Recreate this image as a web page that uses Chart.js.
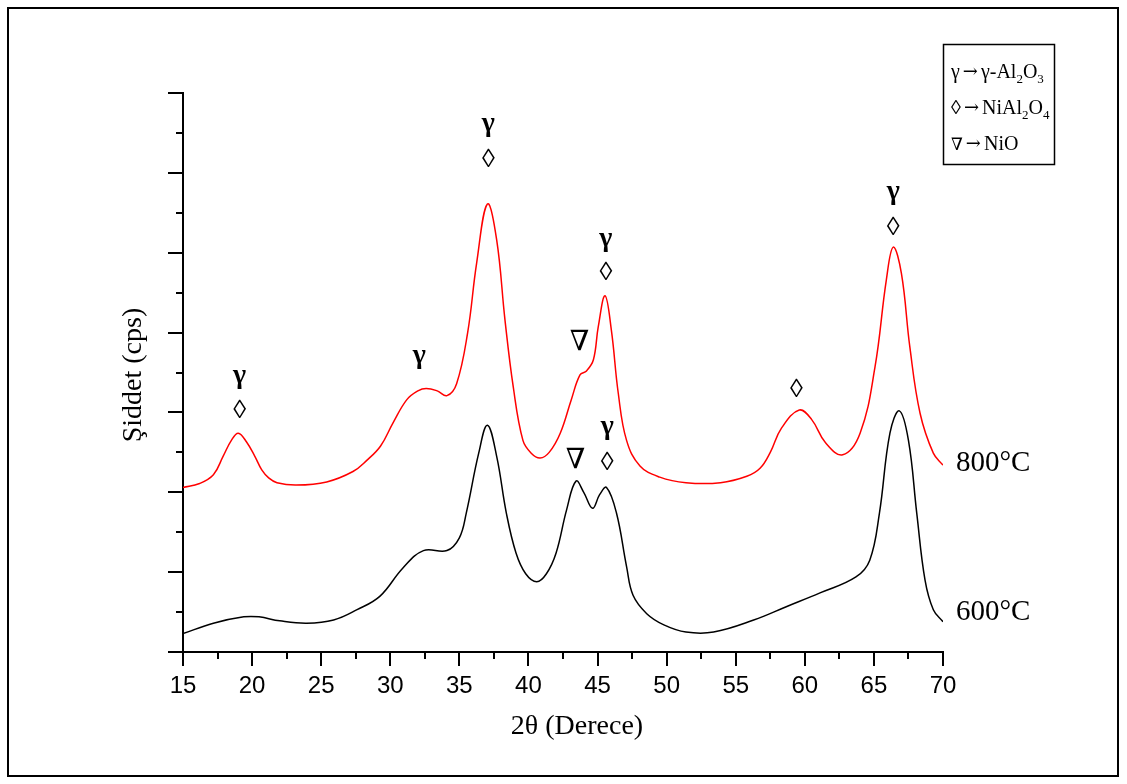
<!DOCTYPE html>
<html>
<head>
<meta charset="utf-8">
<script src="https://cdn.jsdelivr.net/npm/chart.js@4.4.1/dist/chart.umd.min.js"></script>
<style>
  html, body { margin: 0; padding: 0; background: #fff; }
  #wrap { width: 1127px; height: 784px; position: relative; }
</style>
</head>
<body>
<div id="wrap"><canvas id="xrd"></canvas></div>
<script>
// 800°C (kırmızı) eğrisi
const redX = [15.0, 16.2, 17.2, 17.9, 18.5, 19.0, 19.6, 20.2, 20.7, 21.2, 21.8, 23.2, 25.4, 27.3, 28.3, 29.3, 30.2, 31.2, 32.0, 32.6, 33.4, 34.1, 34.8, 35.6, 36.25, 37.03, 37.7, 38.3, 38.9, 39.6, 40.2, 40.84, 41.5, 42.3, 43.1, 43.73, 44.2, 44.7, 45.05, 45.54, 46.0, 46.5, 47.1, 48.07, 49.5, 51.4, 53.9, 55.8, 56.76, 57.5, 58.3, 59.6, 60.5, 61.5, 62.74, 64.0, 65.08, 65.9, 66.4, 66.99, 67.6, 68.34, 69.3, 70.0];
const redY = [2.06, 2.11, 2.22, 2.45, 2.65, 2.74, 2.63, 2.45, 2.28, 2.18, 2.12, 2.09, 2.13, 2.26, 2.40, 2.58, 2.87, 3.16, 3.27, 3.30, 3.27, 3.21, 3.36, 4.00, 4.87, 5.61, 5.16, 4.16, 3.32, 2.65, 2.49, 2.43, 2.50, 2.74, 3.16, 3.47, 3.52, 3.66, 4.07, 4.46, 4.03, 3.24, 2.65, 2.33, 2.19, 2.12, 2.12, 2.20, 2.30, 2.50, 2.80, 3.03, 2.91, 2.62, 2.47, 2.74, 3.57, 4.66, 5.07, 4.74, 3.82, 2.99, 2.49, 2.34];

// 600°C (siyah) eğrisi
const blackX = [15.0, 17.2, 19.4, 20.5, 22.0, 23.95, 25.9, 27.6, 29.26, 30.9, 32.4, 34.1, 35.0, 35.5, 36.4, 37.03, 37.7, 38.4, 39.1, 39.8, 40.6, 41.3, 42.0, 42.76, 43.44, 44.0, 44.64, 45.15, 45.65, 46.37, 47.1, 47.57, 48.56, 49.8, 51.4, 53.4, 56.3, 58.7, 61.1, 63.7, 64.7, 65.4, 66.16, 66.84, 67.5, 68.1, 68.7, 69.3, 70.0];
const blackY = [0.23, 0.36, 0.44, 0.44, 0.39, 0.36, 0.40, 0.53, 0.70, 1.05, 1.27, 1.27, 1.43, 1.74, 2.49, 2.84, 2.45, 1.74, 1.24, 0.98, 0.88, 0.98, 1.24, 1.78, 2.14, 2.00, 1.80, 1.97, 2.06, 1.74, 1.07, 0.71, 0.48, 0.34, 0.25, 0.25, 0.40, 0.57, 0.74, 0.94, 1.15, 1.74, 2.74, 3.02, 2.65, 1.74, 0.90, 0.53, 0.38];

// pik işaretleri
const annoText = ['γ', '◊', 'γ', 'γ', '◊', '∇', 'γ', '◊', '∇', 'γ', '◊', '◊', 'γ', '◊'];
const annoX = [19.1, 19.1, 32.1, 37.1, 37.1, 43.7, 45.6, 45.6, 43.4, 45.7, 45.7, 59.4, 66.4, 66.4];
const annoY = [3.46, 3.02, 3.71, 6.61, 6.16, 3.87, 5.17, 4.75, 2.39, 2.82, 2.37, 3.28, 5.76, 5.31];

const xTicks = [15, 20, 25, 30, 35, 40, 45, 50, 55, 60, 65, 70];

const SERIF = '"Liberation Serif", "Times New Roman", serif';
const SANS = '"Liberation Sans", Arial, sans-serif';

function toPoints(xs, ys) {
    return xs.map((x, i) => ({ x: x, y: ys[i] }));
}

const decorPlugin = {
    id: 'decor',
    afterDraw(chart) {
        const ctx = chart.ctx;
        const xs = chart.scales.x;
        const ys = chart.scales.y;
        const area = chart.chartArea;
        ctx.save();
        ctx.strokeStyle = '#000';
        ctx.fillStyle = '#000';

        // eksen çentikleri (büyük + küçük)
        ctx.lineWidth = 2;
        for (let v = 15; v <= 70; v += 2.5) {
            const px = Math.round(xs.getPixelForValue(v));
            const len = (v % 5 === 0) ? 14 : 7;
            ctx.beginPath();
            ctx.moveTo(px, area.bottom);
            ctx.lineTo(px, area.bottom + len);
            ctx.stroke();
        }
        for (let v = 0; v <= 7; v += 0.5) {
            const py = Math.round(ys.getPixelForValue(v));
            const len = (v % 1 === 0) ? 15 : 7;
            ctx.beginPath();
            ctx.moveTo(area.left, py);
            ctx.lineTo(area.left - len, py);
            ctx.stroke();
        }

        // pik sembolleri
        ctx.textAlign = 'center';
        ctx.textBaseline = 'middle';
        annoText.forEach((t, i) => {
            const px = xs.getPixelForValue(annoX[i]);
            const py = ys.getPixelForValue(annoY[i]);
            if (t === '◊') ctx.font = '26px ' + SERIF;
            else if (t === '∇') ctx.font = '28px "DejaVu Serif", serif';
            else ctx.font = 'bold 28px ' + SERIF;
            ctx.fillText(t, px, py);
        });

        // sıcaklık etiketleri
        ctx.textAlign = 'left';
        ctx.font = '29px ' + SERIF;
        ctx.fillText('800°C', 956, 463);
        ctx.fillText('600°C', 956, 612);

        // eksen başlıkları
        ctx.textAlign = 'center';
        ctx.font = '28px ' + SERIF;
        ctx.fillText('2θ (Derece)', 577, 727);
        ctx.save();
        ctx.translate(134, 375);
        ctx.rotate(-Math.PI / 2);
        ctx.fillText('Şiddet (cps)', 0, 0);
        ctx.restore();

        // lejant kutusu
        ctx.lineWidth = 1.5;
        ctx.strokeRect(943.5, 44.5, 111, 120);
        const rows = [
            [['γ', 0, 0], ['→', 0, 1], ['γ-Al', 0, 0], ['2', 1, 0], ['O', 0, 0], ['3', 1, 0]],
            [['◊', 0, 0], ['→', 0, 1], ['NiAl', 0, 0], ['2', 1, 0], ['O', 0, 0], ['4', 1, 0]],
            [['∇', 0, 2], ['→', 0, 1], ['NiO', 0, 0]]
        ];
        const baseY = [78, 114, 150];
        ctx.textAlign = 'left';
        ctx.textBaseline = 'alphabetic';
        rows.forEach((parts, r) => {
            let x = 951;
            parts.forEach(([txt, sub, alt]) => {
                if (sub) ctx.font = '13px ' + SERIF;
                else if (alt === 1) ctx.font = '18px "DejaVu Serif", serif';
                else if (alt === 2) ctx.font = '17px "DejaVu Serif", serif';
                else ctx.font = '20px ' + SERIF;
                if (alt === 1) {
                    x += 3;
                    ctx.fillText(txt, x, baseY[r] - 1);
                    x += ctx.measureText(txt).width + 3;
                } else {
                    ctx.fillText(txt, x, baseY[r] + (sub ? 5 : 0));
                    x += ctx.measureText(txt).width;
                }
            });
        });

        // dış çerçeve
        ctx.lineWidth = 2;
        ctx.strokeRect(8, 8, 1110, 768);
        ctx.restore();
    }
};

const ctx = document.getElementById('xrd').getContext('2d');

new Chart(ctx, {
    type: 'line',
    data: {
        datasets: [
            {
                label: '800°C',
                data: toPoints(redX, redY),
                borderColor: '#ff0000',
                borderWidth: 1.5,
                pointRadius: 0,
                fill: false,
                tension: 0.4
            },
            {
                label: '600°C',
                data: toPoints(blackX, blackY),
                borderColor: '#000000',
                borderWidth: 1.5,
                pointRadius: 0,
                fill: false,
                tension: 0.4
            }
        ]
    },
    options: {
        responsive: true,
        maintainAspectRatio: false,
        animation: false,
        layout: {
            padding: { top: 93, right: 184, left: 0, bottom: 0 }
        },
        plugins: {
            legend: { display: false },
            tooltip: { enabled: false }
        },
        scales: {
            x: {
                type: 'linear',
                min: 15,
                max: 70,
                afterBuildTicks: (scale) => {
                    scale.ticks = xTicks.map(v => ({ value: v }));
                },
                afterFit: (scale) => { scale.height = 132; },
                grid: { display: false, drawTicks: false },
                border: { display: true, color: '#000', width: 2 },
                ticks: {
                    color: '#000',
                    font: { family: SANS, size: 24 },
                    padding: 20,
                    maxRotation: 0
                }
            },
            y: {
                min: 0,
                max: 7,
                afterFit: (scale) => { scale.width = 183; },
                grid: { display: false, drawTicks: false },
                border: { display: true, color: '#000', width: 2 },
                ticks: { display: false, stepSize: 1 }
            }
        }
    },
    plugins: [decorPlugin]
});
</script>
</body>
</html>
